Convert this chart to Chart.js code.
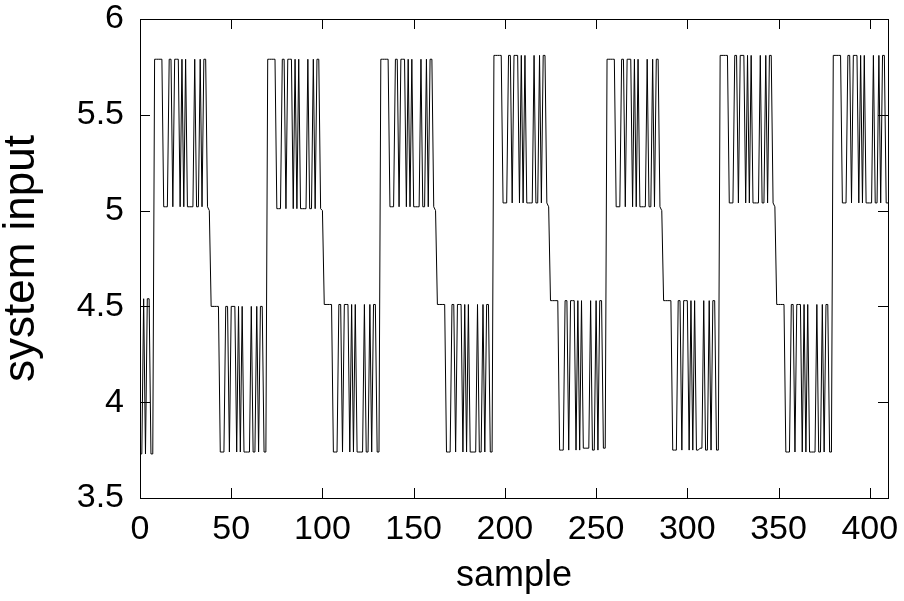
<!DOCTYPE html>
<html>
<head>
<meta charset="utf-8">
<script src="https://cdn.jsdelivr.net/npm/chart.js@4/dist/chart.umd.min.js"></script>
<style>
    html, body { margin: 0; padding: 0; background: #fff; }
    #container { width: 904px; height: 601px; }
</style>
</head>
<body>
<div id="container"><canvas id="grafico"></canvas></div>
<script>
// amostras 0..7 (fim de um meio-ciclo baixo)
const inicio = [3.73, 3.73, 4.54, 3.73, 4.54, 4.54, 3.73, 3.73];

// meio-ciclos altos (31 amostras cada)
const alto1 = [5.79, 5.79, 5.79, 5.79, 5.79, 5.02, 5.02, 5.02, 5.79, 5.79, 5.02, 5.79, 5.79, 5.79, 5.02, 5.79, 5.02, 5.79, 5.02, 5.02, 5.02, 5.02, 5.79, 5.02, 5.02, 5.79, 5.02, 5.79, 5.79, 5.02, 5.00];
const alto2 = [5.79, 5.79, 5.79, 5.79, 5.79, 5.01, 5.01, 5.01, 5.79, 5.79, 5.01, 5.79, 5.79, 5.79, 5.01, 5.79, 5.01, 5.79, 5.01, 5.01, 5.01, 5.01, 5.79, 5.01, 5.01, 5.79, 5.01, 5.79, 5.79, 5.01, 5.00];
const alto3 = [5.79, 5.79, 5.79, 5.79, 5.79, 5.02, 5.02, 5.02, 5.79, 5.79, 5.02, 5.79, 5.79, 5.79, 5.02, 5.79, 5.02, 5.79, 5.02, 5.02, 5.02, 5.02, 5.79, 5.02, 5.02, 5.79, 5.02, 5.79, 5.79, 5.02, 5.00];
const alto4 = [5.81, 5.81, 5.81, 5.81, 5.81, 5.04, 5.04, 5.04, 5.81, 5.81, 5.04, 5.81, 5.81, 5.81, 5.04, 5.81, 5.04, 5.81, 5.04, 5.04, 5.04, 5.04, 5.81, 5.04, 5.04, 5.81, 5.04, 5.81, 5.81, 5.04, 5.02];
const alto5 = [5.79, 5.79, 5.79, 5.79, 5.79, 5.02, 5.02, 5.02, 5.79, 5.79, 5.02, 5.79, 5.79, 5.79, 5.02, 5.79, 5.02, 5.79, 5.02, 5.02, 5.02, 5.02, 5.79, 5.02, 5.02, 5.79, 5.02, 5.79, 5.79, 5.02, 5.00];
const alto6 = [5.81, 5.81, 5.81, 5.81, 5.81, 5.04, 5.04, 5.04, 5.81, 5.81, 5.04, 5.81, 5.81, 5.81, 5.04, 5.81, 5.04, 5.81, 5.04, 5.04, 5.04, 5.04, 5.81, 5.04, 5.04, 5.81, 5.04, 5.81, 5.81, 5.04, 5.02];
const alto7 = [5.81, 5.81, 5.81, 5.81, 5.81, 5.04, 5.04, 5.04, 5.81, 5.81, 5.04, 5.81, 5.81, 5.81, 5.04, 5.81, 5.04, 5.81, 5.04, 5.04, 5.04, 5.04, 5.81, 5.04, 5.04, 5.81, 5.04, 5.81, 5.81, 5.04, 5.04];

// meio-ciclos baixos (31 amostras cada)
const baixo1 = [4.50, 4.50, 4.50, 4.50, 4.50, 3.74, 3.74, 3.74, 4.50, 4.50, 3.74, 4.50, 4.50, 4.50, 3.74, 4.50, 3.74, 4.50, 3.74, 3.74, 3.74, 3.74, 4.50, 3.74, 3.74, 4.50, 3.74, 4.50, 4.50, 3.74, 3.74];
const baixo2 = [4.51, 4.51, 4.51, 4.51, 4.51, 3.74, 3.74, 3.74, 4.51, 4.51, 3.74, 4.51, 4.51, 4.51, 3.74, 4.51, 3.74, 4.51, 3.74, 3.74, 3.74, 3.74, 4.51, 3.74, 3.74, 4.51, 3.74, 4.51, 4.51, 3.74, 3.74];
const baixo3 = [4.51, 4.51, 4.51, 4.51, 4.51, 3.74, 3.74, 3.74, 4.51, 4.51, 3.74, 4.51, 4.51, 4.51, 3.74, 4.51, 3.74, 4.51, 3.74, 3.74, 3.74, 3.74, 4.51, 3.74, 3.74, 4.51, 3.74, 4.51, 4.51, 3.74, 3.74];
const baixo4 = [4.53, 4.53, 4.53, 4.53, 4.53, 3.75, 3.75, 3.75, 4.53, 4.53, 3.75, 4.53, 4.53, 4.53, 3.75, 4.53, 3.75, 4.53, 3.76, 3.76, 3.76, 3.76, 4.53, 3.75, 3.75, 4.53, 3.75, 4.53, 4.53, 3.76, 3.76];
const baixo5 = [4.53, 4.53, 4.53, 4.53, 4.53, 3.75, 3.75, 3.75, 4.53, 4.53, 3.75, 4.53, 4.53, 4.53, 3.75, 4.53, 3.75, 4.53, 3.75, 3.75, 3.76, 3.76, 4.53, 3.75, 3.75, 4.53, 3.75, 4.53, 4.53, 3.75, 3.75];
const baixo6 = [4.51, 4.51, 4.51, 4.51, 4.51, 3.74, 3.74, 3.74, 4.51, 4.51, 3.74, 4.51, 4.51, 4.51, 3.74, 4.51, 3.74, 4.51, 3.74, 3.74, 3.74, 3.74, 4.51, 3.74, 3.74, 4.51, 3.74, 4.51, 4.51, 3.74, 3.74];

const xTicks = [0, 50, 100, 150, 200, 250, 300, 350, 400];
const yTicks = [3.5, 4, 4.5, 5, 5.5, 6];
const yTickLabels = ['3.5', '4', '4.5', '5', '5.5', '6'];

const serie = [].concat(inicio, alto1, baixo1, alto2, baixo2, alto3, baixo3,
    alto4, baixo4, alto5, baixo5, alto6, baixo6, alto7);
const pontos = serie.map((v, i) => ({ x: i, y: v }));

const familia = '"Liberation Sans", Arial, sans-serif';
const fonteTick = { family: familia, size: 34, lineHeight: 1 };

// moldura fechada e marcas de escala para dentro, nos quatro lados
const moldura = {
    id: 'moldura',
    afterDraw(chart) {
        const { ctx, chartArea: a, scales } = chart;
        const t = 10;
        ctx.save();
        ctx.strokeStyle = '#000';
        ctx.lineWidth = 1;
        ctx.beginPath();
        scales.x.ticks.forEach(tk => {
            const px = Math.round(scales.x.getPixelForValue(tk.value)) + 0.5;
            ctx.moveTo(px, a.bottom); ctx.lineTo(px, a.bottom - t);
            ctx.moveTo(px, a.top); ctx.lineTo(px, a.top + t);
        });
        scales.y.ticks.forEach(tk => {
            const py = Math.round(scales.y.getPixelForValue(tk.value)) + 0.5;
            ctx.moveTo(a.left, py); ctx.lineTo(a.left + t, py);
            ctx.moveTo(a.right, py); ctx.lineTo(a.right - t, py);
        });
        ctx.stroke();
        ctx.strokeRect(Math.round(a.left) + 0.5, Math.round(a.top) + 0.5,
            Math.round(a.right - a.left), Math.round(a.bottom - a.top));
        ctx.restore();
    }
};

document.addEventListener('DOMContentLoaded', () => {
    const ctx = document.getElementById('grafico');

    new Chart(ctx, {
        type: 'line',
        data: {
            datasets: [{
                label: 'system input',
                data: pontos,
                borderColor: '#000',
                borderWidth: 1,
                pointRadius: 0,
                tension: 0,
                fill: false
            }]
        },
        options: {
            responsive: true,
            maintainAspectRatio: false,
            animation: false,
            layout: { padding: { top: 19, right: 16, left: 0, bottom: 0 } },
            plugins: {
                legend: { display: false },
                tooltip: { enabled: false }
            },
            scales: {
                x: {
                    type: 'linear',
                    min: 0,
                    max: 410,
                    grid: { display: false },
                    border: { display: false },
                    afterBuildTicks: s => { s.ticks = xTicks.map(v => ({ value: v })); },
                    afterFit: s => {
                        s.height = 103;
                        s.paddingLeft = 0;
                        s.paddingRight = 0;
                    },
                    ticks: {
                        color: '#000',
                        font: fonteTick,
                        padding: 7,
                        maxRotation: 0,
                        autoSkip: false,
                        callback: v => String(v)
                    },
                    title: {
                        display: true,
                        text: 'sample',
                        color: '#000',
                        font: { family: familia, size: 36, lineHeight: 1 },
                        padding: { top: 0, bottom: 7 }
                    }
                },
                y: {
                    min: 3.5,
                    max: 6,
                    grid: { display: false },
                    border: { display: false },
                    afterBuildTicks: s => { s.ticks = yTicks.map(v => ({ value: v })); },
                    afterFit: s => {
                        s.width = 140;
                        s.paddingTop = 0;
                        s.paddingBottom = 0;
                    },
                    ticks: {
                        color: '#000',
                        font: fonteTick,
                        padding: 8,
                        callback: v => yTickLabels[yTicks.indexOf(v)]
                    },
                    title: {
                        display: true,
                        text: 'system input',
                        color: '#000',
                        font: { family: familia, size: 44, lineHeight: 1 },
                        padding: 0
                    }
                }
            }
        },
        plugins: [moldura]
    });
});
</script>
</body>
</html>
